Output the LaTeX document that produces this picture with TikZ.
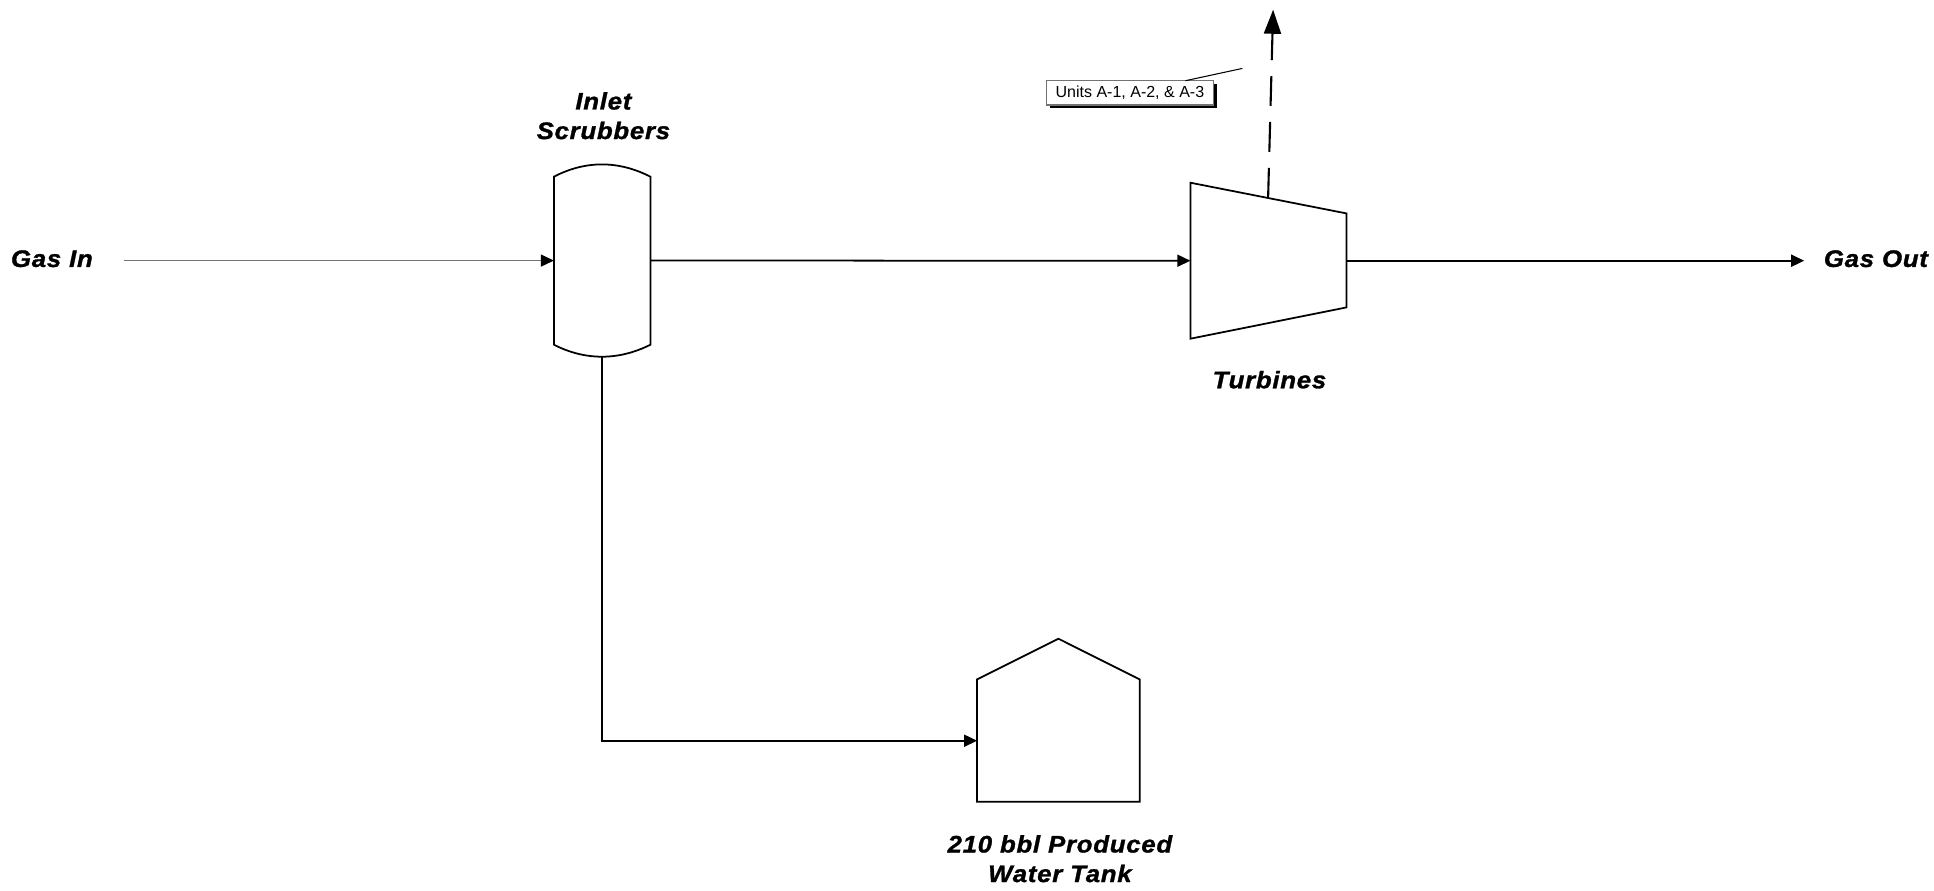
\documentclass[tikz,border=0pt]{standalone}
\usepackage{fontspec}
\setmainfont{Liberation Sans}
\newfontfamily\tagfont[LetterSpace=3,FakeStretch=1.08,FakeBold=1.2]{Liberation Sans}
\usetikzlibrary{arrows.meta,shadows}
\tikzset{
  unit/.style={inner sep=0, outer sep=0},
  outline/.style={draw=black, line width=0.5pt, line join=miter},
  flow/.style={draw=black, line width=0.5pt, -{Triangle[length=0.13cm,width=0.12cm]}},
  feed/.style={draw=black!55, line width=0.4pt, -{Triangle[length=0.13cm,width=0.12cm,black]}},
  stack/.style={draw=black, line width=0.6pt, dash pattern=on 8.5pt off 4.55pt, -{Triangle[length=0.24cm,width=0.17cm]}},
  tag/.style={inner ysep=0, align=center, font=\tagfont\bfseries\itshape\fontsize{6.8}{8.4}\selectfont},
  calloutbox/.style={draw=black!55, fill=white, line width=0.45pt, inner sep=0, minimum width=1.67cm, minimum height=0.24cm, font=\fontsize{4.55}{6}\selectfont, drop shadow={shadow xshift=0.035cm, shadow yshift=-0.035cm, fill=black, opacity=1}}
}

\begin{document}
\begin{tikzpicture}[x=0.01cm, y=-0.01cm]
\useasboundingbox (-0.4,-0.7) rectangle (1933.6,889.3);
% vessel, engine and tank
\node [unit, minimum width=0.965cm, minimum height=1.923cm] (scrub) at (601.75,259.85) {};
\node [unit, minimum width=1.56cm, minimum height=1.56cm] (turb) at (1268,260) {};
\node [unit, minimum width=1.626cm, minimum height=1.63cm] (tank) at (1058,719.5) {};
\path [outline] (553.5,176) .. controls (585,159.6) and (618,159.6) .. (650,176) -- (650,344) .. controls (618,360) and (585,360) .. (553.5,344) -- cycle;
\path [outline] (1190,182) -- (1346,212.7) -- (1346,306.7) -- (1190,338) -- cycle;
\path [outline] (976.7,678.7) -- (1058,638) -- (1139.3,678.7) -- (1139.3,801) -- (976.7,801) -- cycle;
% labels
\node [tag, inner xsep=0.305cm] (gasin) at (51.5,258) {Gas In};
\node [tag, inner xsep=0.19cm] (gasout) at (1875.5,258) {Gas Out};
\node [tag] (scrubtag) at (603,115) {Inlet\\Scrubbers};
\node [tag] (turbtag) at (1269,379) {Turbines};
\node [tag] (tanktag) at (1059.5,858) {210 bbl Produced\\Water Tank};
\node [calloutbox] (units) at (1129.5,92) {Units A-1, A-2, \& A-3};
% connectors
\coordinate (stackbase) at (1267.7,197);
\coordinate (stackend) at (1272.7,9);
\coordinate (leaderend) at (1242,67.7);
\coordinate (leaderstart) at (1185,80);
\coordinate (tankin) at (976.7,740);
\path [feed] (gasin.east |- scrub.west) -- (scrub.west);
\path [flow] (scrub.east) -- (turb.west);
\path [flow] (turb.east) -- (gasout.west |- turb.east);
\path [flow] (scrub.south) |- (tankin);
\path [stack] (stackbase) -- (stackend);
\draw [line width=0.3pt] (leaderstart) -- (leaderend);
\end{tikzpicture}
\end{document}
